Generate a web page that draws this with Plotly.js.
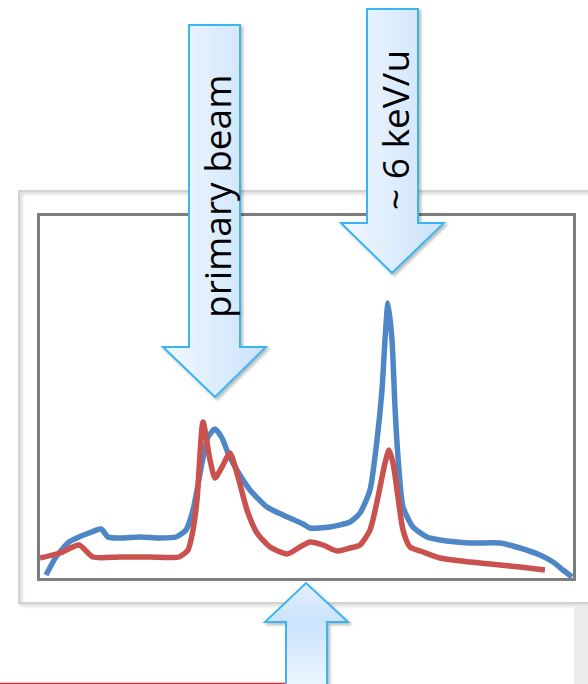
<!DOCTYPE html>
<html>
<head>
<meta charset="utf-8">
<script src="https://cdn.plot.ly/plotly-3.0.1.min.js"></script>
<style>
  html, body { margin: 0; padding: 0; background: #ffffff; }
  #chart { width: 588px; height: 684px; }
</style>
</head>
<body>
<div id="chart"></div>
<script>
// ---- Data (arbitrary units: channel vs. counts) ----
const blueChannel = [6, 16, 29, 39, 49, 61, 68, 80, 100, 120, 136, 146, 153, 162, 168, 175, 182, 188, 198, 210, 227, 243, 263, 270, 290, 310, 320, 330, 337, 342, 345, 348, 352, 355, 358, 363, 373, 387, 400, 430, 460, 480, 500, 513, 523, 532];
const blueCounts  = [3, 21, 36, 41, 45, 49, 41, 40, 41, 40, 41, 48, 68, 115, 141, 149, 140, 125, 106, 88, 71, 63, 54, 50, 51, 56, 65, 88, 138, 188, 238, 275, 238, 171, 121, 71, 51, 41, 38, 35, 35, 30, 23, 16, 8, 1];

const redChannel = [0, 20, 39, 53, 80, 110, 139, 148, 153, 157, 163, 170, 175, 182, 190, 198, 207, 217, 230, 247, 260, 270, 283, 297, 310, 320, 330, 338, 345, 349, 353, 358, 363, 370, 383, 400, 430, 460, 480, 505];
const redCounts  = [20, 25, 33, 21, 21, 21, 21, 28, 48, 78, 156, 118, 100, 111, 125, 101, 68, 45, 31, 24, 31, 36, 33, 27, 30, 33, 48, 81, 115, 128, 115, 81, 48, 31, 26, 20, 16, 13, 11, 8];

const labelPrimary = "primary beam";
const labelEnergy  = "~ 6 keV/u";

// ---- Geometry helpers (pixel -> paper) ----
const W = 588, H = 684;
const PL = 40, PR = 573, PT = 216, PB = 578;
const fx = px => (px - PL) / (PR - PL);
const fy = py => (PB - py) / (PB - PT);
function pathFrom(pts) {
  return 'M' + pts.map(p => fx(p[0]).toFixed(5) + ',' + fy(p[1]).toFixed(5)).join(' L') + ' Z';
}
function downArrow(sx0, sx1, top, hy, hx0, hx1, tipx, tipy) {
  return pathFrom([[sx0, top], [sx1, top], [sx1, hy], [hx1, hy], [tipx, tipy], [hx0, hy], [sx0, hy]]);
}
function upArrow(sx0, sx1, bottom, hy, hx0, hx1, tipx, tipy) {
  return pathFrom([[sx0, bottom], [sx0, hy], [hx0, hy], [tipx, tipy], [hx1, hy], [sx1, hy], [sx1, bottom]]);
}

const traces = [
  { x: blueChannel, y: blueCounts, type: 'scatter', mode: 'lines',
    line: { color: '#4f87c6', width: 5.5, shape: 'spline', smoothing: 0.6 }, hoverinfo: 'skip' },
  { x: redChannel, y: redCounts, type: 'scatter', mode: 'lines',
    line: { color: '#c9524e', width: 5.5, shape: 'spline', smoothing: 0.6 }, hoverinfo: 'skip' }
];

const arrowLine = { color: '#3db4f2', width: 2 };
const shapes = [
  // outer frame
  { type: 'rect', xref: 'paper', yref: 'paper', layer: 'below',
    x0: fx(19), x1: fx(610), y0: fy(603), y1: fy(191),
    line: { color: '#c6c6c6', width: 1.5 }, fillcolor: 'rgba(0,0,0,0)' },
  // gray area bottom-right
  { type: 'rect', xref: 'paper', yref: 'paper', layer: 'above',
    x0: fx(574), x1: fx(600), y0: fy(700), y1: fy(606),
    line: { width: 0 }, fillcolor: '#ebebeb' },
  // red line bottom-left
  { type: 'line', xref: 'paper', yref: 'paper', layer: 'above',
    x0: fx(0), x1: fx(286), y0: fy(683.5), y1: fy(683.5),
    line: { color: '#e02a2a', width: 1.5 } },
  // arrows
  { type: 'path', xref: 'paper', yref: 'paper', layer: 'above',
    path: downArrow(189, 240, 25, 347, 163, 266, 215, 397), line: arrowLine, fillcolor: '#dcecfd' },
  { type: 'path', xref: 'paper', yref: 'paper', layer: 'above',
    path: downArrow(367, 418, 9, 223, 341, 444, 392, 273), line: arrowLine, fillcolor: '#dcecfd' },
  { type: 'path', xref: 'paper', yref: 'paper', layer: 'above',
    path: upArrow(286, 327, 700, 622, 265, 348, 306, 583), line: arrowLine, fillcolor: '#dcecfd' }
];

const annotations = [
  { text: labelPrimary, xref: 'paper', yref: 'paper', x: fx(216), y: fy(197),
    showarrow: false, textangle: -90, xanchor: 'center', yanchor: 'middle',
    font: { family: 'Open Sans, sans-serif', size: 37, color: '#000000' } },
  { text: labelEnergy, xref: 'paper', yref: 'paper', x: fx(394), y: fy(130),
    showarrow: false, textangle: -90, xanchor: 'center', yanchor: 'middle',
    font: { family: 'Open Sans, sans-serif', size: 37, color: '#000000' } }
];

const axisCommon = { showline: true, mirror: true, linecolor: '#7d7d7d', linewidth: 3,
  showgrid: false, zeroline: false, showticklabels: false, ticks: '', fixedrange: true };

const layout = {
  width: W, height: H,
  margin: { l: PL, r: W - PR, t: PT, b: H - PB, pad: 0 },
  paper_bgcolor: '#ffffff', plot_bgcolor: '#ffffff',
  showlegend: false,
  xaxis: Object.assign({ range: [0, 533] }, axisCommon),
  yaxis: Object.assign({ range: [0, 362] }, axisCommon),
  shapes: shapes,
  annotations: annotations
};

Plotly.newPlot('chart', traces, layout, { staticPlot: true, displayModeBar: false }).then(gd => {
  const NS = 'http://www.w3.org/2000/svg';
  const svg = gd.querySelector('svg.main-svg');
  let defs = svg.querySelector('defs');
  if (!defs) { defs = document.createElementNS(NS, 'defs'); svg.insertBefore(defs, svg.firstChild); }
  function grad(id, x2, y2, stops) {
    const g = document.createElementNS(NS, 'linearGradient');
    g.setAttribute('id', id);
    g.setAttribute('x1', '0'); g.setAttribute('y1', '0');
    g.setAttribute('x2', x2); g.setAttribute('y2', y2);
    stops.forEach(s => {
      const st = document.createElementNS(NS, 'stop');
      st.setAttribute('offset', s[0]); st.setAttribute('stop-color', s[1]);
      g.appendChild(st);
    });
    defs.appendChild(g);
  }
  grad('gradH', '1', '0', [['0', '#f2f8ff'], ['1', '#cae2fb']]);
  grad('gradV', '0', '1', [['0', '#e4f0fd'], ['0.33', '#cbe3fb'], ['1', '#f4f9ff']]);
  const f = document.createElementNS(NS, 'filter');
  f.setAttribute('id', 'shadow');
  f.setAttribute('x', '-20%'); f.setAttribute('y', '-20%');
  f.setAttribute('width', '140%'); f.setAttribute('height', '140%');
  const ds = document.createElementNS(NS, 'feDropShadow');
  ds.setAttribute('dx', '2'); ds.setAttribute('dy', '2');
  ds.setAttribute('stdDeviation', '1.5');
  ds.setAttribute('flood-color', '#000'); ds.setAttribute('flood-opacity', '0.28');
  f.appendChild(ds); defs.appendChild(f);

  const paths = gd.querySelectorAll('.shapelayer path');
  paths.forEach(p => {
    const idx = +p.getAttribute('data-index');
    if (idx === 3 || idx === 4) { p.style.fill = 'url(#gradH)'; p.style.filter = 'url(#shadow)'; }
    if (idx === 5) { p.style.fill = 'url(#gradV)'; p.style.filter = 'url(#shadow)'; }
    if (idx === 0) { p.style.filter = 'url(#shadow)'; }
  });
});
</script>
</body>
</html>
